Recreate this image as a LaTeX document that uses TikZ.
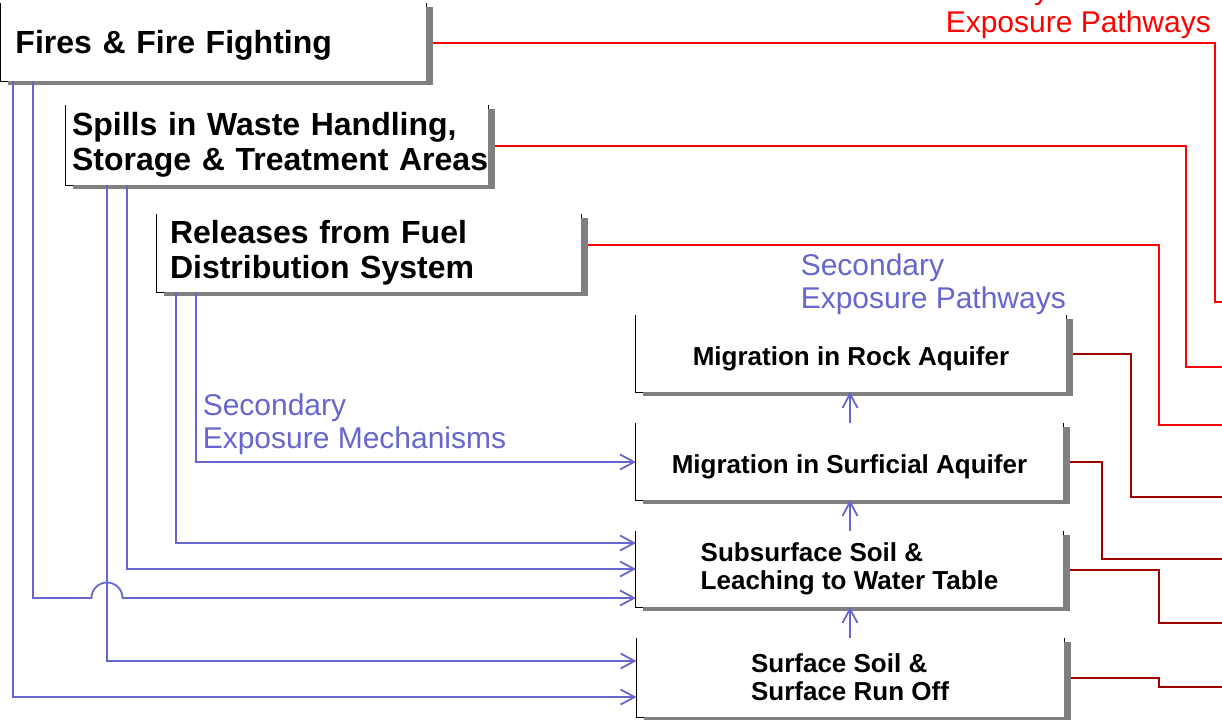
\documentclass[tikz,border=0pt]{standalone}
\usepackage{fontspec}
\setmainfont{Liberation Sans}
\usetikzlibrary{arrows.meta,calc,shadows}

\definecolor{mechblue}{RGB}{102,102,204}
\definecolor{primred}{RGB}{255,0,0}
\definecolor{secred}{RGB}{160,0,0}
\definecolor{boxshade}{RGB}{128,128,128}

\tikzset{every picture/.style={line width=0.75pt}}
\tikzset{
  boxedge/.style={draw=black, line width=1pt, line join=miter},
  openbox/.style={fill=white, inner sep=0pt, outer sep=0pt, align=left,
    drop shadow={shadow xshift=3.5pt, shadow yshift=-2pt, fill=boxshade, opacity=1},
    append after command={\pgfextra{\draw[boxedge] (\tikzlastnode.north west) -- (\tikzlastnode.south west) -- (\tikzlastnode.south east) -- (\tikzlastnode.north east);}}},
  sourcebox/.style={openbox, font=\fontsize{16}{17.5}\selectfont\bfseries, minimum height=39pt},
  mediabox/.style={openbox, font=\fontsize{13}{14}\selectfont\bfseries, minimum width=213.5pt, minimum height=38.5pt},
  oneline/.style={text height=11.5pt, text depth=0pt},
  seclabel/.style={text=mechblue, inner sep=0pt, align=left, font=\fontsize{15}{16.5}\selectfont},
  primlabel/.style={text=primred, inner sep=0pt, align=left, font=\fontsize{15}{16.5}\selectfont},
  flow/.style={draw=mechblue, line width=0.9pt, -{Straight Barb[length=7pt,width=7.5pt]}},
  primline/.style={draw=primred, line width=0.9pt},
  secline/.style={draw=secred, line width=0.9pt},
}

\begin{document}
\begin{tikzpicture}[x=0.5pt,y=0.5pt,yscale=-1,xscale=1]
\useasboundingbox (0,0) rectangle (1222,719);
\clip (0,0) rectangle (1222,719);

%Source boxes
\node[sourcebox, inner xsep=7.5pt, text width=197.5pt, text depth=0pt] (fires) at (213,42) {Fires \& Fire Fighting};
\node[sourcebox, inner xsep=3pt, text width=205pt, minimum height=40pt] (spills) at (277,145) {Spills in Waste Handling,\\\mbox{Storage \& Treatment Areas}};
\node[sourcebox, inner xsep=6.5pt, text width=199pt] (fuel) at (369,253) {Releases from Fuel\\Distribution System};

%Media boxes
\node[mediabox, oneline, minimum width=215pt] (rock) at (851,353.5) {Migration in Rock Aquifer};
\node[mediabox, oneline] (surficial) at (849.5,461.5) {Migration in Surficial Aquifer};
\node[mediabox, minimum height=38pt] (subsoil) at (849.5,569) {Subsurface Soil \&\\Leaching to Water Table};
\node[mediabox, minimum height=39.5pt] (topsoil) at (850,677.5) {Surface Soil \&\\Surface Run Off};

% Text Node
\node[seclabel, anchor=north west] (mechlabel) at (202,393) {Secondary\\Exposure Mechanisms};
% Text Node
\node[seclabel, anchor=north west] (pathlabel) at (800,253) {Secondary\\Exposure Pathways};
% Text Node
\node[primlabel, anchor=north west] (primlabel) at (945,-23) {Primary\\Exposure Pathways};

%Open ends on the right
\coordinate (outA) at (1222,302);
\coordinate (outB) at (1222,367);
\coordinate (outC) at (1222,425);
\coordinate (outD) at (1222,497);
\coordinate (outE) at (1222,559);
\coordinate (outF) at (1222,623);
\coordinate (outG) at (1222,687);

%Secondary exposure mechanisms
\draw[flow] (fires.south -| 13,0) |- (topsoil.west |- 0,697);
\draw[flow] (fires.south -| 33,0) |- (91.5,598) arc (180:360:15.5) -- (subsoil.west |- 0,598);
\draw[flow] (spills.south -| 107,0) |- (topsoil.west |- 0,661);
\draw[flow] (spills.south -| 127,0) |- (subsoil.west |- 0,569);
\draw[flow] (fuel.south -| 176,0) |- (subsoil.west |- 0,543);
\draw[flow] (fuel.south -| 196,0) |- (surficial.west |- 0,462);

%Secondary exposure pathways
\draw[flow] (topsoil.north) -- (topsoil.north |- subsoil.south);
\draw[flow] (subsoil.north -| topsoil.north) -- (topsoil.north |- surficial.south);
\draw[flow] (surficial.north -| topsoil.north) -- (topsoil.north |- rock.south);

%Primary exposure pathways
\draw[primline] ($(fires.east)+(7,1)$) -| (1215,302) -- (outA);
\draw[primline] ($(spills.east)+(7,1)$) -| (1186,367) -- (outB);
\draw[primline] ($(fuel.east |- 0,245)+(7,0)$) -| (1159,425) -- (outC);
\draw[secline] ($(rock.east)+(7,0.5)$) -| (1131,497) -- (outD);
\draw[secline] ($(surficial.east)+(7,0.5)$) -| (1102,559) -- (outE);
\draw[secline] ($(subsoil.east)+(7,1)$) -| (1159,623) -- (outF);
\draw[secline] ($(topsoil.east)+(7,0.5)$) -| (1159,687) -- (outG);

\end{tikzpicture}
\end{document}
